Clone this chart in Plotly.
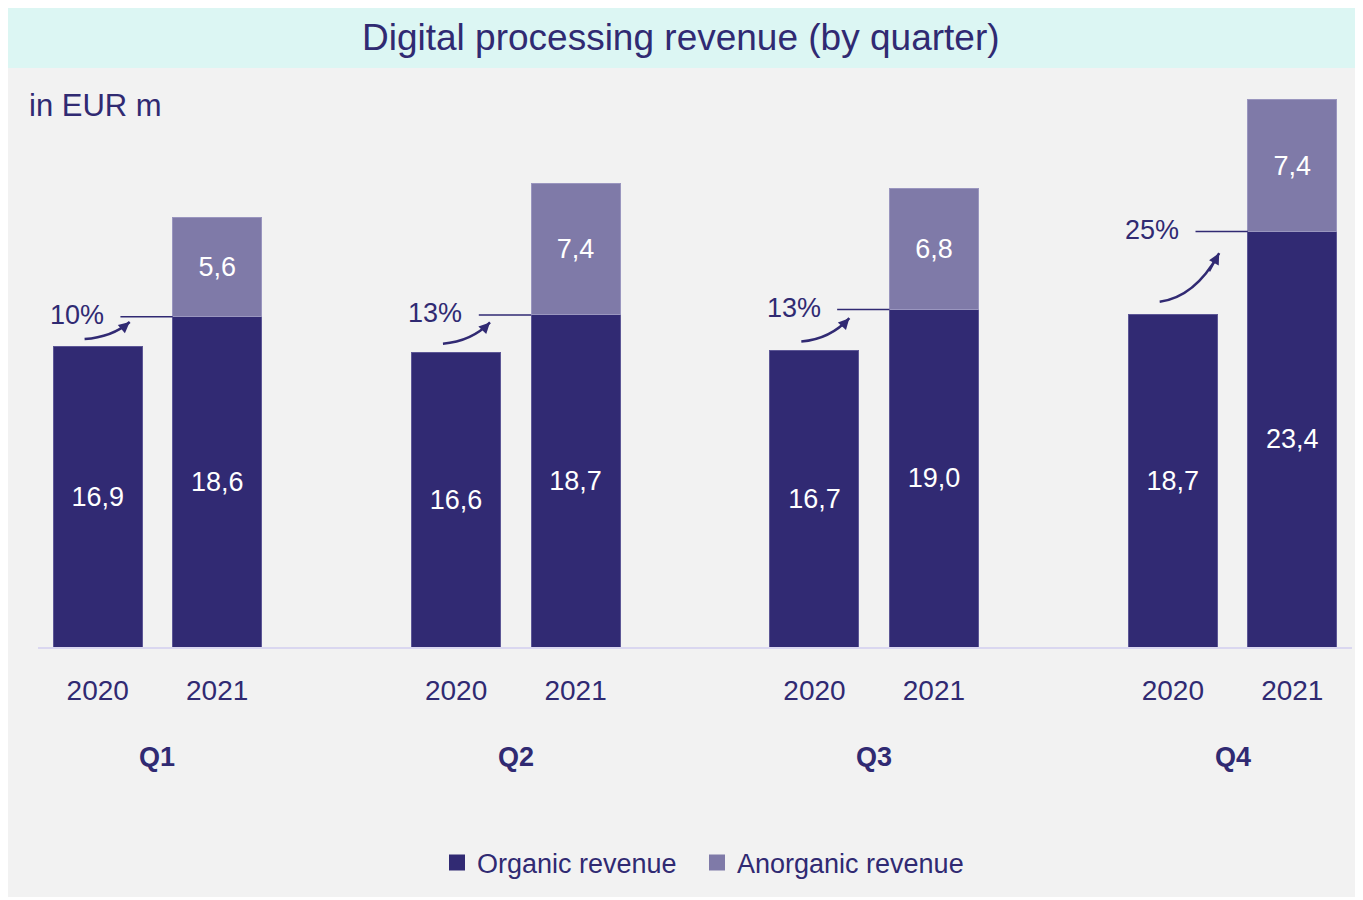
import plotly.graph_objects as go

quarters = ["Q1", "Q2", "Q3", "Q4"]
years = ["2020", "2021"]
organic_2020 = [16.9, 16.6, 16.7, 18.7]
organic_2021 = [18.6, 18.7, 19.0, 23.4]
anorganic_2021 = [5.6, 7.4, 6.8, 7.4]
growth_labels = ["10%", "13%", "13%", "25%"]
series_names = ["Organic revenue", "Anorganic revenue"]

DARK = "#312a73"
LIGHT = "#7f7aa8"
TEXT = "#302a72"
FONT = "Liberation Sans, Arial, sans-serif"

# page has an 8px body margin, so the figure starts at (8, 8) on screen
OFF = 8
W, H = 1347, 889
# plot area on screen: x 38..1352, y 90..647
ML, MT = 38 - OFF, 90 - OFF
MR, MB = OFF + W - 1352, OFF + H - 647
PW, PH = W - ML - MR, H - MT - MB


def px_x(p):
    return (p - OFF - ML) / PW


def px_y(p):
    return (OFF + H - MB - p) / PH


def fmt(v):
    return f"{v:.1f}".replace(".", ",")


# x slots: two bars per quarter, one empty slot between quarters
x20 = [i * 3 for i in range(len(quarters))]
x21 = [i * 3 + 1 for i in range(len(quarters))]
bar_w = 0.745

fig = go.Figure()
fig.add_trace(go.Bar(
    x=x20 + x21, y=organic_2020 + organic_2021, width=bar_w, showlegend=False,
    marker=dict(color=DARK, line=dict(color="#5d5796", width=1)),
    text=[fmt(v) for v in organic_2020 + organic_2021],
    textposition="inside", insidetextanchor="middle", textangle=0,
    textfont=dict(color="white", size=27, family=FONT),
))
fig.add_trace(go.Bar(
    x=x21, y=anorganic_2021, width=bar_w, showlegend=False,
    marker=dict(color=LIGHT, line=dict(color="#9a96bf", width=1)),
    text=[fmt(v) for v in anorganic_2021],
    textposition="inside", insidetextanchor="middle", textangle=0,
    textfont=dict(color="white", size=27, family=FONT),
))
# legend entries with square swatches, one legend box each
for name, col, leg in zip(series_names, [DARK, LIGHT], ["legend", "legend2"]):
    fig.add_trace(go.Scatter(x=[None], y=[None], mode="markers", name=name, legend=leg,
                             marker=dict(symbol="square", size=16, color=col)))

shapes = [
    # title banner
    dict(type="rect", xref="paper", yref="paper", x0=px_x(0), x1=px_x(1363),
         y0=px_y(68), y1=px_y(0), fillcolor="#dcf6f3", line_width=0, layer="below"),
]
annotations = [
    dict(text="Digital processing revenue (by quarter)", xref="paper", yref="paper",
         x=px_x(681), y=px_y(38), showarrow=False, xanchor="center", yanchor="middle",
         font=dict(size=37, color=TEXT, family=FONT)),
    dict(text="in EUR m", xref="paper", yref="paper", x=px_x(27), y=px_y(106),
         showarrow=False, xanchor="left", yanchor="middle",
         font=dict(size=31, color=TEXT, family=FONT)),
]

for i, q in enumerate(quarters):
    a, b = organic_2020[i], organic_2021[i]
    d = b - a
    annotations.append(dict(text=f"<b>{q}</b>", x=(x20[i] + x21[i]) / 2, xref="x",
                            y=px_y(757), yref="paper", showarrow=False, yanchor="middle",
                            font=dict(size=27, color=TEXT, family=FONT)))
    # connector line
    shapes.append(dict(type="line", xref="x", yref="y", x0=x20[i] + 0.19,
                       x1=x21[i] - bar_w / 2, y0=b, y1=b,
                       line=dict(color=DARK, width=1.5)))
    annotations.append(dict(text=growth_labels[i], x=x20[i] + 0.07, y=b + 0.1,
                            xref="x", yref="y", showarrow=False, xanchor="right",
                            yanchor="middle", font=dict(size=27, color=TEXT, family=FONT)))
    # curved arrow
    sx, sy = x20[i] - 0.11, a + 0.44 + 0.1 * (d - 1.7)
    ex, ey = x20[i] + 0.2 + 0.04 * d, b - 0.3 - 0.307 * (d - 1.7)
    cx, cy = sx + 0.6 * (ex - sx), sy + 0.1 * (ey - sy)
    shapes.append(dict(type="path", xref="x", yref="y",
                       path=f"M {sx},{sy} Q {cx},{cy} {ex},{ey}",
                       line=dict(color=DARK, width=2.5)))
    annotations.append(dict(x=ex, y=ey, ax=ex - 0.45 * (ex - cx), ay=ey - 0.45 * (ey - cy),
                            xref="x", yref="y", axref="x", ayref="y", text="",
                            showarrow=True, arrowhead=2, arrowsize=1.1, arrowwidth=2,
                            arrowcolor=DARK, standoff=0))

legend_style = dict(orientation="h", xanchor="left", y=px_y(863), yanchor="middle",
                    font=dict(size=27, color=TEXT, family=FONT), bgcolor="rgba(0,0,0,0)")

fig.update_layout(
    width=W, height=H, barmode="stack",
    margin=dict(l=ML, r=MR, t=MT, b=MB),
    paper_bgcolor="#f2f2f2", plot_bgcolor="rgba(0,0,0,0)",
    font=dict(family=FONT, color=TEXT),
    shapes=shapes, annotations=annotations,
    showlegend=True,
    legend=dict(x=px_x(437), **legend_style),
    legend2=dict(x=px_x(697), **legend_style),
    hovermode=False,
)
fig.update_xaxes(range=[-0.5, 10.5], tickmode="array", tickvals=x20 + x21,
                 ticktext=[years[0]] * 4 + [years[1]] * 4, showgrid=False, zeroline=False,
                 showline=True, linecolor="#dad7f0", linewidth=2, ticks="",
                 ticklabelstandoff=17, tickfont=dict(size=28, color=TEXT, family=FONT),
                 fixedrange=True)
fig.update_yaxes(range=[0, PH / 17.76], visible=False, showgrid=False, zeroline=False,
                 fixedrange=True)

fig.write_html("out.html")
